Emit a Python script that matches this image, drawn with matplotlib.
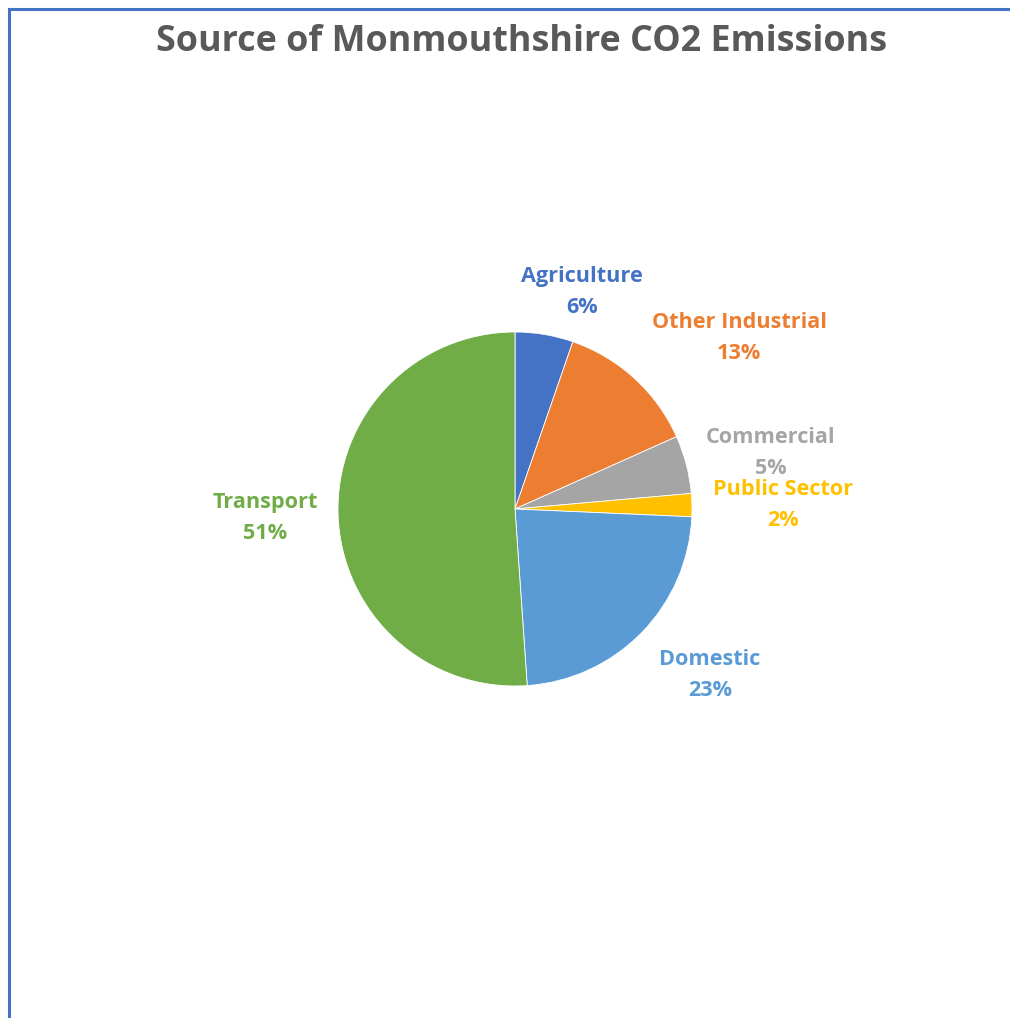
import matplotlib.pyplot as plt
from matplotlib.lines import Line2D

# data: share of CO2 emissions by source (%)
sources = ['Agriculture', 'Other Industrial', 'Commercial', 'Public Sector', 'Domestic', 'Transport']
shares = [5.3, 13.0, 5.3, 2.1, 23.2, 51.1]
pct_labels = ['6%', '13%', '5%', '2%', '23%', '51%']
colors = ['#4472C4', '#ED7D31', '#A5A5A5', '#FFC000', '#5B9BD5', '#70AD47']

# label centres (pixels from top-left) - layout only
label_pos = [(582, 292), (739, 338), (771, 453), (783, 505), (710, 675), (265, 518)]

W, H = 1010, 1018
fig = plt.figure(figsize=(W / 100, H / 100), dpi=100)
ax = fig.add_axes([0, 0, 1, 1])
ax.set_xlim(0, W)
ax.set_ylim(H, 0)
ax.set_aspect('equal')
ax.axis('off')

# chart frame (only left and top edges visible in the crop)
ax.add_line(Line2D([9, 9], [H + 5, 9], color='#4472C4', lw=2.2))
ax.add_line(Line2D([9, W + 5], [9, 9], color='#4472C4', lw=2.2))

font = 'Open Sans'
ax.text(522, 42, 'Source of Monmouthshire CO2 Emissions', ha='center', va='center',
        fontsize=25.8, fontweight='bold', color='#595959', family=font)

# pie drawn in flipped y axis -> clockwise when counterclock=True
wedges, _ = ax.pie(shares, colors=colors, startangle=-90, counterclock=True,
                   center=(515, 509), radius=177, frame=True,
                   wedgeprops=dict(linewidth=0.6, edgecolor='white'))
ax.set_xlim(0, W)
ax.set_ylim(H, 0)
ax.axis('off')

for name, pct, col, (x, y) in zip(sources, pct_labels, colors, label_pos):
    ax.text(x, y, name + '\n' + pct, ha='center', va='center', fontsize=15.6,
            fontweight='bold', color=col, family=font, linespacing=1.6)

fig.savefig('out.png', dpi=100, facecolor='white')
